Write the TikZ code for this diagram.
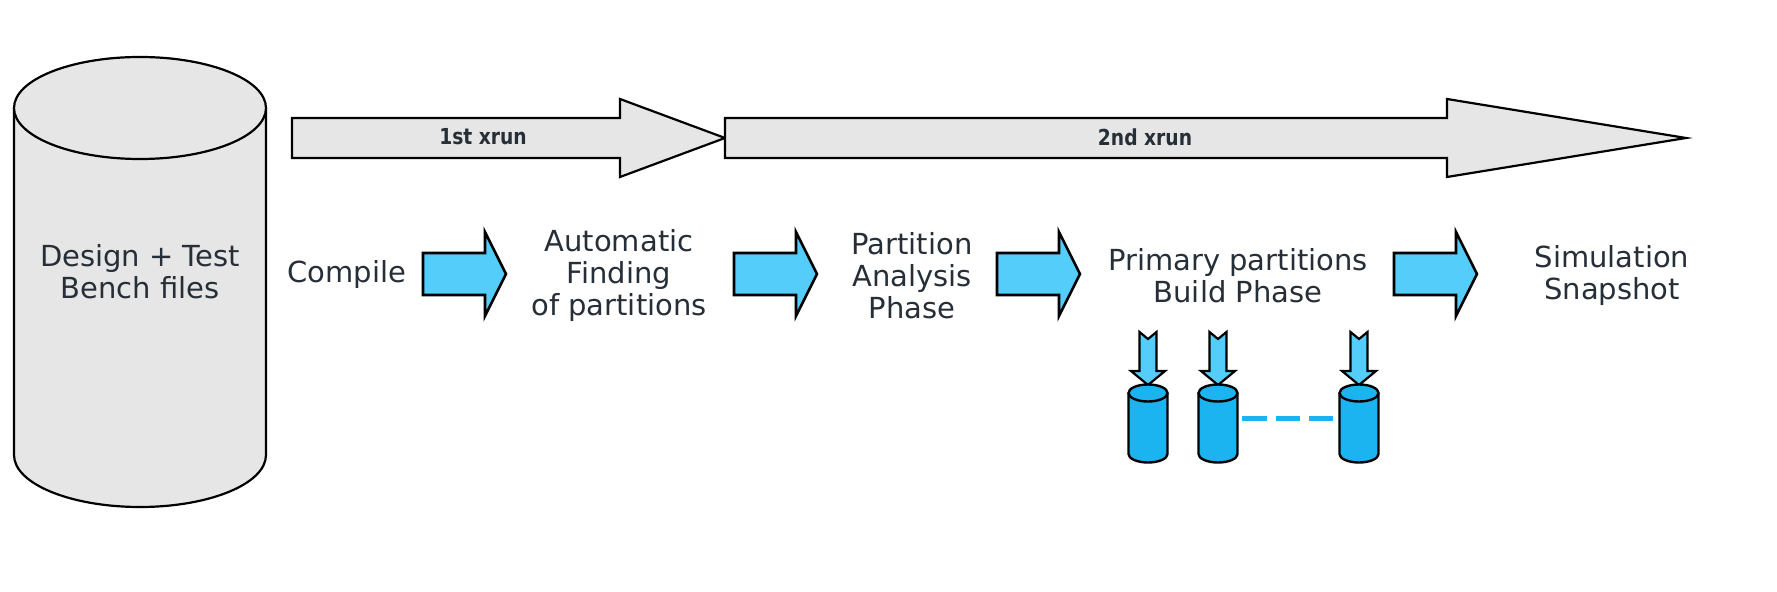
\documentclass[tikz,border=0pt]{standalone}
\usepackage{fontspec}
\setmainfont{DejaVu Sans}
\newfontfamily\runfont[FakeStretch=0.85]{DejaVu Sans}
\definecolor{boxgray}{RGB}{230,230,230}
\definecolor{arrowblue}{RGB}{85,205,250}
\definecolor{diskblue}{RGB}{28,180,240}
\definecolor{inkgray}{RGB}{38,46,56}

\tikzset{
  label text/.style={text=inkgray, font=\fontsize{14.5}{16}\selectfont, align=center},
  run text/.style={text=inkgray, font=\runfont\bfseries\fontsize{11}{13}\selectfont},
  bigarrow/.style={draw=black, fill=boxgray, line width=1.1pt},
  bluearrow/.style={draw=black, fill=arrowblue, line width=1.3pt},
  disk/.style={draw=black, fill=diskblue, line width=1.2pt},
}

\begin{document}
\begin{tikzpicture}[x=0.5pt, y=-0.5pt]
    \useasboundingbox (0,0) rectangle (1777,592);

    % design + test bench files
    \draw[bigarrow] (14,108) -- (14,455)
      arc[start angle=180, end angle=0, x radius=126, y radius=52] -- (266,108);
    \draw[bigarrow] (140,108) ellipse[x radius=126, y radius=51];
    \node[label text] (design) at (140,272) {Design + Test\\Bench files};

    % the two xrun arrows
    \draw[bigarrow] (292,118) -- (620,118) -- (620,99) -- (725,138)
      -- (620,177) -- (620,158) -- (292,158) -- cycle;
    \draw[bigarrow] (725,118) -- (1447,118) -- (1447,99) -- (1686,138)
      -- (1447,177) -- (1447,158) -- (725,158) -- cycle;
    \node[run text] (run1) at (483,137) {1st xrun};
    \node[run text] (run2) at (1145,137) {2nd xrun};

    % steps
    \node[label text] (compile) at (347,275) {Compile};
    \node[label text] (finding) at (619,276) {Automatic\\Finding\\of partitions};
    \node[label text] (analysis) at (912,276) {Partition\\Analysis\\Phase};
    \node[label text] (build) at (1238,276) {Primary partitions\\Build Phase};
    \node[label text] (snapshot) at (1612,276) {Simulation\\Snapshot};

    % block arrows between the steps
    \foreach \x in {423,734,997,1394}
      \draw[bluearrow, shift={(\x,274)}] (0,-21) -- (62,-21) -- (62,-42) -- (83,0)
        -- (62,42) -- (62,21) -- (0,21) -- cycle;

    % primary partitions
    \foreach \x/\n in {1148/1,1218/2,1359/3} {
      \draw[bluearrow, line width=1.1pt] (\x-8.5,332) -- (\x,339) -- (\x+8.5,332) -- (\x+8.5,371)
        -- (\x+17,371) -- (\x,385) -- (\x-17,371) -- (\x-8.5,371) -- cycle;
      \draw[disk] (\x-19.5,393) -- (\x-19.5,454)
        arc[start angle=180, end angle=0, x radius=19.5, y radius=8.5] -- (\x+19.5,393);
      \draw[disk] (\x,393) ellipse[x radius=19.5, y radius=8.5];
      \coordinate (part\n) at (\x,419);
    }
    \draw[diskblue, line width=2.5pt, dash pattern=on 12.3pt off 4.5pt]
      ([xshift=12pt]part2) -- ([xshift=-13pt]part3);
\end{tikzpicture}
\end{document}
